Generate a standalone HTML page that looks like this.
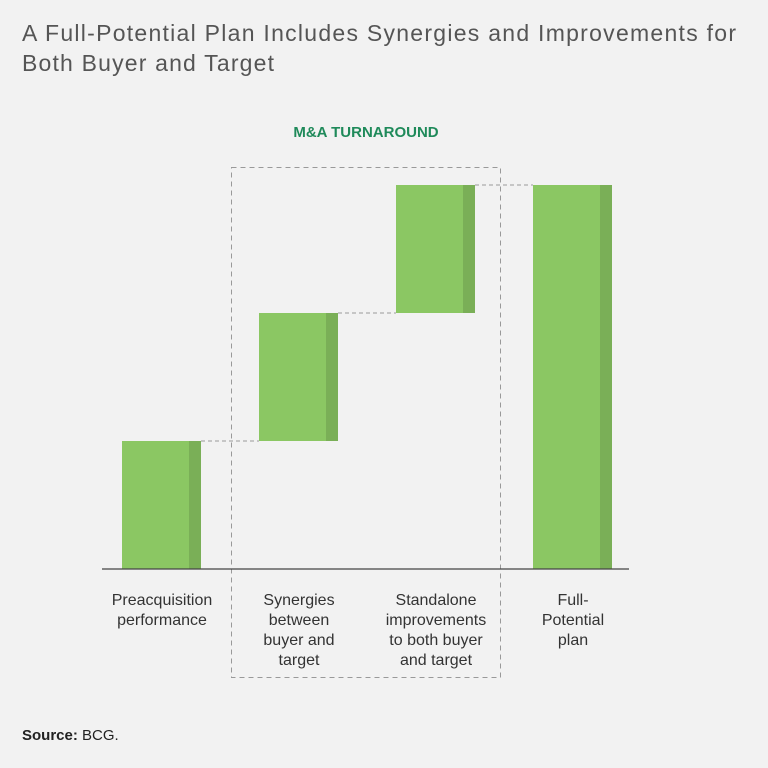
<!DOCTYPE html>
<html><head><meta charset="utf-8"><style>
body{margin:0;background:#f2f2f2;width:768px;height:763px;overflow:hidden;font-family:"Liberation Sans",sans-serif}
</style></head><body>
<svg width="768" height="763" xmlns="http://www.w3.org/2000/svg">
<rect width="768" height="763" fill="#f2f2f2"/>
<text x="22" y="41" font-size="23" fill="#555" textLength="714" lengthAdjust="spacing">A Full-Potential Plan Includes Synergies and Improvements for</text>
<text x="22" y="71" font-size="23" fill="#555" textLength="252" lengthAdjust="spacing">Both Buyer and Target</text>
<text x="366" y="137" font-size="15" font-weight="bold" fill="#1f8a5a" text-anchor="middle">M&amp;A TURNAROUND</text>
<rect x="231.5" y="167.5" width="269" height="510" fill="none" stroke="#999" stroke-dasharray="5,4"/>
<g id="marks"></g>
<line x1="102" y1="569" x2="629" y2="569" stroke="#444" stroke-width="1.2"/>
<g id="labels" font-size="16" fill="#333" text-anchor="middle"></g>
<text x="22" y="740" font-size="15" fill="#222"><tspan font-weight="bold">Source:</tspan> BCG.</text>
</svg>
<script>
const categories=[["Preacquisition","performance"],["Synergies","between","buyer and","target"],["Standalone","improvements","to both buyer","and target"],["Full-","Potential","plan"]];
const deltas=[1,1,1];
const isTotal=[false,false,false,true];
const NS="http://www.w3.org/2000/svg";
const y0=569, unit=128;
function yScale(v){return y0-v*unit;}
function xLeft(i){return 122+i*137;}
const marks=document.getElementById('marks'), labels=document.getElementById('labels');
let cum=0, prevRight=null;
categories.forEach((c,i)=>{
  let base,top;
  if(isTotal[i]){base=0;top=cum;}else{base=cum;top=cum+deltas[i];cum=top;}
  const x=xLeft(i), yT=yScale(top), yB=yScale(base);
  if(prevRight!==null){
    const l=document.createElementNS(NS,'line');
    l.setAttribute('x1',prevRight);l.setAttribute('x2',x);
    const yy=yScale(isTotal[i]?top:base);
    l.setAttribute('y1',yy);l.setAttribute('y2',yy);
    l.setAttribute('stroke','#999');l.setAttribute('stroke-dasharray','4,3');
    
    
    marks.appendChild(l);
  }
  const r=document.createElementNS(NS,'rect');
  r.setAttribute('x',x);r.setAttribute('y',yT);r.setAttribute('width',67);r.setAttribute('height',yB-yT);r.setAttribute('fill','#8bc763');
  
  
  marks.appendChild(r);
  const s=document.createElementNS(NS,'rect');
  s.setAttribute('x',x+67);s.setAttribute('y',yT);s.setAttribute('width',12);s.setAttribute('height',yB-yT);s.setAttribute('fill','#7aaf57');
  
  
  marks.appendChild(s);
  prevRight=x+79;
  const t=document.createElementNS(NS,'text');
  t.setAttribute('x',x+40);
  
  
  c.forEach((line,j)=>{const ts=document.createElementNS(NS,'tspan');ts.setAttribute('x',x+40);ts.setAttribute('y',605+j*20);ts.textContent=line;t.appendChild(ts);});
  labels.appendChild(t);
});
</script>
</body></html>
